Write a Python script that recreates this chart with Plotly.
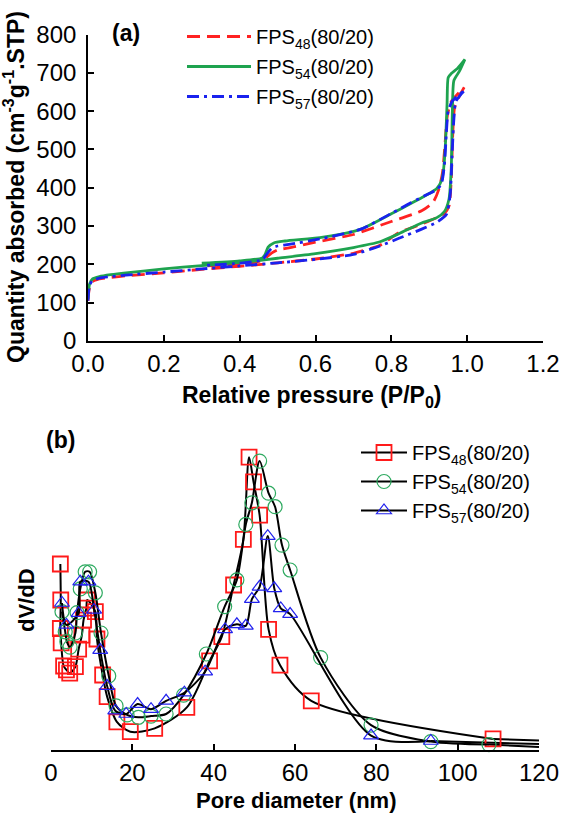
import plotly.graph_objects as go

W, H = 564, 816
FONT = "Liberation Sans, Arial, sans-serif"

# ---------------- Panel (a): N2 isotherms ----------------
names = ["FPS<sub>48</sub>(80/20)", "FPS<sub>54</sub>(80/20)", "FPS<sub>57</sub>(80/20)"]

# FPS48 (red dashed)
p_ads_48 = [0.0, 0.004, 0.012, 0.03, 0.06, 0.1, 0.2, 0.3, 0.4, 0.5, 0.6, 0.7, 0.77, 0.82, 0.88, 0.92, 0.94, 0.952, 0.958, 0.962, 0.967, 0.98, 0.992]
q_ads_48 = [105, 140, 155, 162, 166, 170, 178, 187, 195, 204, 214, 229, 250, 283, 305, 322, 333, 352, 420, 540, 610, 640, 662]
p_des_48 = [0.992, 0.975, 0.958, 0.948, 0.942, 0.935, 0.925, 0.91, 0.88, 0.8, 0.7, 0.6, 0.53, 0.5, 0.485, 0.47, 0.46, 0.4, 0.3]
q_des_48 = [662, 645, 625, 590, 520, 440, 395, 362, 340, 312, 278, 258, 243, 238, 230, 218, 210, 202, 195]

# FPS54 (green solid)
p_ads_54 = [0.0, 0.004, 0.012, 0.03, 0.06, 0.1, 0.2, 0.3, 0.4, 0.45, 0.5, 0.6, 0.7, 0.77, 0.82, 0.88, 0.92, 0.94, 0.952, 0.958, 0.961, 0.965, 0.98, 0.994]
q_ads_54 = [110, 148, 162, 168, 173, 178, 188, 197, 205, 210, 216, 228, 244, 259, 280, 308, 322, 338, 370, 450, 600, 680, 705, 735]
p_des_54 = [0.994, 0.975, 0.958, 0.95, 0.947, 0.943, 0.938, 0.933, 0.92, 0.9, 0.85, 0.8, 0.72, 0.62, 0.52, 0.49, 0.475, 0.468, 0.46, 0.4, 0.3]
q_des_54 = [735, 712, 698, 688, 620, 520, 450, 420, 398, 385, 358, 332, 292, 271, 261, 256, 245, 228, 217, 209, 203]

# FPS57 (blue dash-dot)
p_ads_57 = [0.0, 0.004, 0.012, 0.03, 0.06, 0.1, 0.2, 0.3, 0.4, 0.5, 0.6, 0.7, 0.77, 0.82, 0.88, 0.92, 0.945, 0.955, 0.96, 0.965, 0.97, 0.982, 0.994]
q_ads_57 = [105, 145, 158, 164, 168, 172, 180, 188, 196, 204, 213, 226, 248, 268, 292, 310, 330, 380, 480, 580, 625, 642, 655]
p_des_57 = [0.994, 0.975, 0.96, 0.95, 0.945, 0.94, 0.932, 0.92, 0.9, 0.85, 0.8, 0.72, 0.62, 0.53, 0.5, 0.485, 0.47, 0.46, 0.4, 0.3]
q_des_57 = [655, 640, 625, 600, 540, 460, 410, 395, 385, 360, 333, 292, 268, 252, 248, 243, 225, 212, 203, 197]

iso_colors = ["#ff2222", "#1ea34f", "#1a22ee"]
iso_dash = ["13px,7px", "solid", "12px,5px,3px,5px"]

# ---------------- Panel (b): pore size distribution ----------------
d_48 = [2.3, 2.4, 2.3, 2.5, 3.1, 3.8, 4.6, 6.0, 6.8, 7.6, 8.0, 8.7, 8.9, 10.9, 11.3, 12.7, 13.8, 16.2, 19.5, 25.5, 33.4, 39.0, 42.0, 44.9, 47.3, 48.7, 49.8, 51.3, 53.5, 56.3, 64.0, 108.7]
v_48 = [0.62, 0.50, 0.405, 0.357, 0.28, 0.267, 0.256, 0.278, 0.336, 0.383, 0.433, 0.473, 0.50, 0.461, 0.37, 0.25, 0.178, 0.094, 0.061, 0.072, 0.142, 0.297, 0.378, 0.55, 0.702, 0.976, 0.894, 0.783, 0.402, 0.283, 0.164, 0.037]

d_54 = [2.7, 3.5, 3.9, 4.7, 6.0, 6.4, 7.2, 8.4, 9.5, 10.9, 12.3, 14.2, 16.0, 18.7, 21.5, 24.6, 28.3, 32.6, 38.2, 42.7, 45.7, 47.9, 49.4, 51.3, 53.5, 55.1, 56.8, 58.8, 66.3, 78.7, 93.4, 107.7]
v_54 = [0.461, 0.394, 0.361, 0.343, 0.39, 0.458, 0.537, 0.594, 0.594, 0.524, 0.39, 0.247, 0.147, 0.117, 0.109, 0.113, 0.12, 0.183, 0.32, 0.478, 0.567, 0.752, 0.824, 0.963, 0.856, 0.811, 0.683, 0.60, 0.308, 0.083, 0.028, 0.018]

d_57 = [2.7, 3.8, 6.8, 7.2, 9.2, 10.6, 12.1, 13.8, 15.8, 18.5, 21.3, 24.6, 28.3, 32.8, 37.9, 42.8, 45.7, 47.9, 49.4, 51.3, 53.3, 54.9, 56.5, 58.8, 78.7, 93.4]
v_57 = [0.49, 0.417, 0.456, 0.561, 0.561, 0.467, 0.333, 0.213, 0.131, 0.12, 0.153, 0.136, 0.164, 0.191, 0.261, 0.402, 0.419, 0.414, 0.503, 0.544, 0.713, 0.539, 0.472, 0.453, 0.048, 0.03]

# end of the fitted curves at the right edge of the axis
d_end = 120
v_end = [0.032, 0.01, 0.02]

psd_colors = ["#ff1a1a", "#2eaa60", "#2222ee"]
psd_symbols = ["square-open", "circle-open", "triangle-up-open"]
psd_sizes = [15, 14, 13]

fig = go.Figure()

iso = [(p_ads_48, q_ads_48, p_des_48, q_des_48),
       (p_ads_54, q_ads_54, p_des_54, q_des_54),
       (p_ads_57, q_ads_57, p_des_57, q_des_57)]
for i, (pa, qa, pd_, qd) in enumerate(iso):
    fig.add_trace(go.Scatter(
        x=pa + pd_, y=qa + qd, mode="lines", name=names[i], legendgroup="a%d" % i,
        line=dict(color=iso_colors[i], width=2.8, dash=iso_dash[i], shape="spline", smoothing=0.6),
        xaxis="x", yaxis="y", legend="legend"))

psd = [(d_48, v_48), (d_54, v_54), (d_57, v_57)]
for i, (dd, vv) in enumerate(psd):
    fig.add_trace(go.Scatter(
        x=[dd[-1], d_end], y=[vv[-1], v_end[i]], mode="lines", showlegend=False,
        line=dict(color="black", width=2), xaxis="x2", yaxis="y2", hoverinfo="skip"))
for i, (dd, vv) in enumerate(psd):
    fig.add_trace(go.Scatter(
        x=dd, y=vv, mode="lines+markers", name=names[i], legendgroup="b%d" % i,
        line=dict(color="black", width=2, shape="spline", smoothing=0.8),
        marker=dict(symbol=psd_symbols[i], size=psd_sizes[i], color=psd_colors[i],
                    line=dict(color=psd_colors[i], width=1.8 if i == 0 else 1.2)),
        cliponaxis=False, xaxis="x2", yaxis="y2", legend="legend2"))

def px_x(v):
    return v / W

def px_y(v):
    return 1 - v / H

axis_common = dict(showline=True, linecolor="black", linewidth=1.6, ticks="inside", ticklen=6,
                   tickwidth=1.6, tickcolor="black", showgrid=False, zeroline=False,
                   automargin=False,
                   tickfont=dict(family=FONT, size=24, color="black"))

fig.update_layout(
    width=W, height=H, margin=dict(l=0, r=0, t=0, b=0, pad=0, autoexpand=False),
    paper_bgcolor="white", plot_bgcolor="white",
    font=dict(family=FONT, color="black"),
    xaxis=dict(domain=[px_x(88), px_x(543)], range=[0, 1.2], dtick=0.2, tickformat=".1f",
               anchor="y", ticklabelstandoff=0, **axis_common),
    yaxis=dict(domain=[px_y(341), px_y(34.5)], range=[0, 800], dtick=100,
               anchor="x", ticklabelstandoff=5, **axis_common),
    xaxis2=dict(domain=[px_x(51), px_x(539)], range=[0, 120], dtick=20,
                anchor="y2", ticklabelstandoff=0, **axis_common),
    yaxis2=dict(domain=[px_y(750), px_y(445)], range=[0, 1.0167], visible=False, anchor="x2",
                automargin=False),
    legend=dict(x=px_x(182), y=px_y(17), xanchor="left", yanchor="top", bgcolor="rgba(0,0,0,0)",
                font=dict(family=FONT, size=20, color="black"), itemwidth=64, tracegroupgap=1),
    legend2=dict(x=px_x(356), y=px_y(433), xanchor="left", yanchor="top", bgcolor="rgba(0,0,0,0)",
                 font=dict(family=FONT, size=20, color="black"), itemwidth=46, tracegroupgap=0),
    showlegend=True,
)

annots = [
    dict(text="<b>Quantity absorbed (cm<sup>-3</sup>g<sup>-1</sup>.STP)</b>", x=px_x(14), y=px_y(187),
         textangle=-90, size=23),
    dict(text="<b>Relative pressure (P/P<sub>0</sub>)</b>", x=px_x(312), y=px_y(396), textangle=0, size=23),
    dict(text="<b>(a)</b>", x=px_x(126), y=px_y(33), textangle=0, size=23),
    dict(text="<b>(b)</b>", x=px_x(60), y=px_y(440), textangle=0, size=23),
    dict(text="<b>dV/dD</b>", x=px_x(26), y=px_y(600), textangle=-90, size=22),
    dict(text="<b>Pore diameter (nm)</b>", x=px_x(296), y=px_y(800), textangle=0, size=22),
]
for a in annots:
    fig.add_annotation(text=a["text"], x=a["x"], y=a["y"], xref="paper", yref="paper",
                       xanchor="center", yanchor="middle", showarrow=False, textangle=a["textangle"],
                       font=dict(family=FONT, size=a["size"], color="black"))

fig.write_html("out.html", config={"displayModeBar": False},
               post_script="document.body.style.margin='0px';document.body.style.overflow='hidden';")
